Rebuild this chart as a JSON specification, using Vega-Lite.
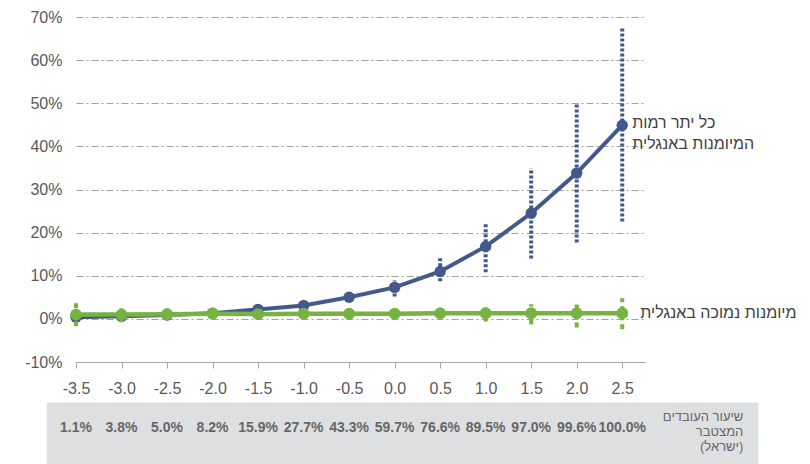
{
  "$schema": "https://vega.github.io/schema/vega-lite/v6.json",
  "autosize": {"type": "none"},
  "padding": {"left": 76, "top": 17, "right": 165, "bottom": 102},
  "width": 569,
  "height": 345,
  "background": "white",
  "config": {
    "view": {"stroke": null},
    "font": "Liberation Sans",
    "text": {"font": "Liberation Sans"}
  },
  "datasets": {
    "blue": [
      {"x": -3.5, "y": 0.4, "lo": null, "hi": null},
      {"x": -3.0, "y": 0.6, "lo": null, "hi": null},
      {"x": -2.5, "y": 0.9, "lo": null, "hi": null},
      {"x": -2.0, "y": 1.3, "lo": null, "hi": null},
      {"x": -1.5, "y": 2.2, "lo": null, "hi": null},
      {"x": -1.0, "y": 3.1, "lo": null, "hi": null},
      {"x": -0.5, "y": 5.0, "lo": null, "hi": null},
      {"x": 0.0, "y": 7.3, "lo": 5.2, "hi": 8.9},
      {"x": 0.5, "y": 11.0, "lo": 8.7, "hi": 14.3},
      {"x": 1.0, "y": 16.8, "lo": 10.8, "hi": 22.4},
      {"x": 1.5, "y": 24.5, "lo": 14.0, "hi": 34.9},
      {"x": 2.0, "y": 33.8, "lo": 17.7, "hi": 50.2},
      {"x": 2.5, "y": 44.9, "lo": 22.6, "hi": 67.4}
    ],
    "green": [
      {"x": -3.5, "y": 1.0, "lo": -1.7, "hi": 3.6},
      {"x": -3.0, "y": 1.0, "lo": -0.8, "hi": 3.1},
      {"x": -2.5, "y": 1.1, "lo": -0.3, "hi": 2.4},
      {"x": -2.0, "y": 1.2, "lo": null, "hi": null},
      {"x": -1.5, "y": 1.1, "lo": null, "hi": null},
      {"x": -1.0, "y": 1.2, "lo": null, "hi": null},
      {"x": -0.5, "y": 1.2, "lo": null, "hi": null},
      {"x": 0.0, "y": 1.2, "lo": null, "hi": null},
      {"x": 0.5, "y": 1.3, "lo": null, "hi": null},
      {"x": 1.0, "y": 1.3, "lo": -0.6, "hi": 2.7},
      {"x": 1.5, "y": 1.3, "lo": -1.3, "hi": 3.4},
      {"x": 2.0, "y": 1.3, "lo": -2.0, "hi": 4.1},
      {"x": 2.5, "y": 1.3, "lo": -2.4, "hi": 4.8}
    ],
    "table": [
      {"x": -3.5, "label": "1.1%"},
      {"x": -3.0, "label": "3.8%"},
      {"x": -2.5, "label": "5.0%"},
      {"x": -2.0, "label": "8.2%"},
      {"x": -1.5, "label": "15.9%"},
      {"x": -1.0, "label": "27.7%"},
      {"x": -0.5, "label": "43.3%"},
      {"x": 0.0, "label": "59.7%"},
      {"x": 0.5, "label": "76.6%"},
      {"x": 1.0, "label": "89.5%"},
      {"x": 1.5, "label": "97.0%"},
      {"x": 2.0, "label": "99.6%"},
      {"x": 2.5, "label": "100.0%"}
    ]
  },
  "layer": [
    {
      "data": {"values": [{}]},
      "mark": {"type": "rect", "color": "#dedfe1"},
      "encoding": {
        "x": {"datum": -3.82, "type": "quantitative"},
        "x2": {"datum": 3.995},
        "y": {"datum": -19.4, "type": "quantitative"},
        "y2": {"datum": -35}
      }
    },
    {
      "data": {"name": "table"},
      "mark": {"type": "text", "fontSize": 14, "fontWeight": "bold", "color": "#666666", "baseline": "middle", "align": "center"},
      "encoding": {
        "x": {"field": "x", "type": "quantitative"},
        "y": {"datum": -25.2, "type": "quantitative"},
        "text": {"field": "label"}
      }
    },
    {
      "data": {"values": [{}]},
      "mark": {"type": "text", "fontSize": 13, "color": "#666666", "baseline": "top", "align": "right", "lineHeight": 15},
      "encoding": {
        "x": {"datum": 3.83, "type": "quantitative"},
        "y": {"datum": -21.3, "type": "quantitative"},
        "text": {"value": ["שיעור העובדים", "המצטבר", "(ישראל)"]}
      }
    },
    {
      "data": {"name": "blue"},
      "transform": [{"filter": "datum.lo != null"}],
      "mark": {"type": "rule", "color": "#44598b", "strokeWidth": 4, "strokeDash": [3, 2], "strokeCap": "butt"},
      "encoding": {
        "x": {"field": "x", "type": "quantitative"},
        "y": {"field": "lo", "type": "quantitative"},
        "y2": {"field": "hi"}
      }
    },
    {
      "data": {"name": "blue"},
      "mark": {"type": "line", "color": "#44598b", "strokeWidth": 4, "point": {"filled": true, "size": 130, "color": "#44598b", "opacity": 1}},
      "encoding": {
        "x": {
          "field": "x", "type": "quantitative",
          "scale": {"domain": [-3.5, 2.75], "nice": false, "zero": false},
          "axis": {
            "title": null,
            "values": [-3.5, -3.0, -2.5, -2.0, -1.5, -1.0, -0.5, 0.0, 0.5, 1.0, 1.5, 2.0, 2.5],
            "labelExpr": "(datum.value < 0 ? '-' : '') + format(abs(datum.value), '.1f')",
            "labelFlush": false,
            "labelOverlap": false,
            "grid": false,
            "domainColor": "#a6a6a6",
            "domainWidth": 1,
            "tickColor": "#a6a6a6",
            "tickSize": 6,
            "labelPadding": 12,
            "labelFontSize": 16,
            "labelColor": "#595959",
            "labelFont": "Liberation Sans"
          }
        },
        "y": {
          "field": "y", "type": "quantitative",
          "scale": {"domain": [-10, 70], "nice": false, "zero": false},
          "axis": {
            "title": null,
            "values": [-10, 0, 10, 20, 30, 40, 50, 60, 70],
            "labelExpr": "datum.value + '%'",
            "domain": false,
            "ticks": false,
            "grid": true,
            "gridColor": "#a0a0a0",
            "gridDash": [7, 3, 2, 3],
            "gridWidth": 1,
            "labelPadding": 14,
            "labelFontSize": 16,
            "labelColor": "#595959",
            "labelFont": "Liberation Sans"
          }
        }
      }
    },
    {
      "data": {"name": "green"},
      "transform": [{"filter": "datum.lo != null"}],
      "mark": {"type": "rule", "color": "#77b341", "strokeWidth": 4, "strokeDash": [5, 4], "strokeCap": "butt"},
      "encoding": {
        "x": {"field": "x", "type": "quantitative"},
        "y": {"field": "lo", "type": "quantitative"},
        "y2": {"field": "hi"}
      }
    },
    {
      "data": {"name": "green"},
      "mark": {"type": "line", "color": "#77b341", "strokeWidth": 4.5, "point": {"filled": true, "size": 140, "color": "#77b341", "opacity": 1}},
      "encoding": {
        "x": {"field": "x", "type": "quantitative"},
        "y": {"field": "y", "type": "quantitative"}
      }
    },
    {
      "data": {"name": "blue"},
      "transform": [{"filter": "datum.x == 2.5"}],
      "mark": {"type": "text", "align": "left", "baseline": "middle", "dx": 10, "dy": -2, "fontSize": 16, "lineHeight": 21, "color": "#404040"},
      "encoding": {
        "x": {"field": "x", "type": "quantitative"},
        "y": {"field": "y", "type": "quantitative"},
        "text": {"value": ["כל יתר רמות", "המיומנות באנגלית"]}
      }
    },
    {
      "data": {"name": "green"},
      "transform": [{"filter": "datum.x == 2.5"}],
      "mark": {"type": "text", "align": "left", "baseline": "middle", "dx": 18, "dy": 0, "fontSize": 16, "color": "#404040"},
      "encoding": {
        "x": {"field": "x", "type": "quantitative"},
        "y": {"field": "y", "type": "quantitative"},
        "text": {"value": "מיומנות נמוכה באנגלית"}
      }
    }
  ]
}
